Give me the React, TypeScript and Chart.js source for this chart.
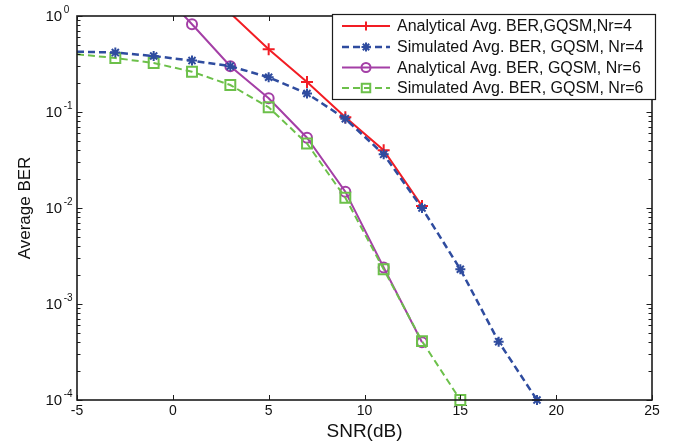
import React, { useEffect, useRef } from 'react';
import { Chart, registerables } from 'chart.js';
Chart.register(...registerables);

// ---- data ----
const seriesLabels = [
  'Analytical Avg. BER,GQSM,Nr=4',
  'Simulated Avg. BER, GQSM, Nr=4',
  'Analytical Avg. BER, GQSM, Nr=6',
  'Simulated Avg. BER, GQSM, Nr=6',
];
const snrAnaNr4 = [1, 3, 5, 7, 9, 11, 13];
const berAnaNr4 = [2.4, 1.07, 0.45, 0.205, 0.088, 0.04, 0.0105];
const snrSimNr4 = [-5, -3, -1, 1, 3, 5, 7, 9, 11, 13, 15, 17, 19];
const berSimNr4 = [0.425, 0.416, 0.383, 0.343, 0.3, 0.23, 0.156, 0.085, 0.0362, 0.01, 0.0023, 0.000405, 0.0001];
const snrAnaNr6 = [-1, 1, 3, 5, 7, 9, 11, 13];
const berAnaNr6 = [2.2, 0.82, 0.3, 0.139, 0.054, 0.0148, 0.0024, 0.0004];
const snrSimNr6 = [-5, -3, -1, 1, 3, 5, 7, 9, 11, 13, 15];
const berSimNr6 = [0.4, 0.365, 0.324, 0.263, 0.191, 0.112, 0.047, 0.0128, 0.0023, 0.00041, 0.0001];

const xTickValues = [-5, 0, 5, 10, 15, 20, 25];
const yTickValues = [1e-4, 1e-3, 1e-2, 1e-1, 1];
const yTickBase = '10';
const yTickExponents = ['-4', '-3', '-2', '-1', '0'];

const colors = ['#f21d24', '#2f4c9f', '#a43fa6', '#6cc04a'];
const markers = ['cross', 'star', 'circle', 'rect'];
const markerRadius = [6, 5, 5, 7];
const dashes = [[], [7, 4], [], [7, 4]];
const widths = [2, 2.5, 2, 2];
const drawOrder = [2, 1, 2, 1];

const FONT = '"Liberation Sans", Arial, Helvetica, sans-serif';

function pts(xs: number[], ys: number[]) {
  return xs.map((x, i) => ({ x, y: ys[i] }));
}

function drawMarker(ctx: CanvasRenderingContext2D, style: string, x: number, y: number, r: number) {
  ctx.beginPath();
  if (style === 'cross') {
    ctx.moveTo(x - r, y); ctx.lineTo(x + r, y);
    ctx.moveTo(x, y - r); ctx.lineTo(x, y + r);
  } else if (style === 'star') {
    const d = r * Math.SQRT1_2;
    ctx.moveTo(x - r, y); ctx.lineTo(x + r, y);
    ctx.moveTo(x, y - r); ctx.lineTo(x, y + r);
    ctx.moveTo(x - d, y - d); ctx.lineTo(x + d, y + d);
    ctx.moveTo(x - d, y + d); ctx.lineTo(x + d, y - d);
  } else if (style === 'circle') {
    ctx.arc(x, y, r, 0, Math.PI * 2);
  } else if (style === 'rect') {
    const s = r * Math.SQRT1_2;
    ctx.rect(x - s, y - s, 2 * s, 2 * s);
  }
  ctx.stroke();
}

const boxPlugin = {
  id: 'matlabBox',
  afterDatasetsDraw(chart: any) {
    const { ctx, chartArea: a, scales } = chart;
    const xs = scales.x, ys = scales.y;
    ctx.save();
    ctx.strokeStyle = '#1c1c1c';
    ctx.lineWidth = 1;
    ctx.setLineDash([]);
    ctx.beginPath();
    for (const t of xTickValues) {
      const px = Math.round(xs.getPixelForValue(t)) + 0.5;
      ctx.moveTo(px, a.bottom); ctx.lineTo(px, a.bottom - 5);
      ctx.moveTo(px, a.top); ctx.lineTo(px, a.top + 5);
    }
    for (let d = -4; d <= 0; d++) {
      for (let m = 1; m <= 9; m++) {
        const v = m * Math.pow(10, d);
        if (v > 1.0001) continue;
        const py = Math.round(ys.getPixelForValue(v)) + 0.5;
        const len = m === 1 ? 5.5 : 3.5;
        ctx.moveTo(a.left, py); ctx.lineTo(a.left + len, py);
        ctx.moveTo(a.right, py); ctx.lineTo(a.right - len, py);
      }
    }
    ctx.stroke();
    ctx.lineWidth = 1.6;
    ctx.strokeRect(a.left, a.top, a.right - a.left, a.bottom - a.top);

    // y tick labels: 10 with superscript exponent
    ctx.fillStyle = '#111111';
    ctx.textAlign = 'left';
    ctx.textBaseline = 'middle';
    yTickValues.forEach((v, i) => {
      const py = ys.getPixelForValue(v);
      ctx.font = `15px ${FONT}`;
      const bx = 45.5;
      ctx.fillText(yTickBase, bx, py + 1);
      const w = ctx.measureText(yTickBase).width;
      ctx.font = `10px ${FONT}`;
      ctx.fillText(yTickExponents[i], bx + w + 1.5, py - 6);
    });
    ctx.restore();
  },
  afterDraw(chart: any) {
    const { ctx } = chart;
    ctx.save();
    const bx = 332, by = 14, bw = 323, bh = 85;
    ctx.fillStyle = '#ffffff';
    ctx.fillRect(bx, by, bw, bh);
    ctx.strokeStyle = '#1c1c1c';
    ctx.lineWidth = 1.2;
    ctx.setLineDash([]);
    ctx.strokeRect(bx + 0.5, by + 0.5, bw, bh);
    const rows = [26, 47, 67.5, 88];
    ctx.font = `16px ${FONT}`;
    ctx.textBaseline = 'middle';
    ctx.textAlign = 'left';
    seriesLabels.forEach((label, i) => {
      const y = rows[i];
      ctx.strokeStyle = colors[i];
      ctx.lineWidth = widths[i];
      ctx.setLineDash(dashes[i]);
      ctx.beginPath();
      ctx.moveTo(342, y); ctx.lineTo(390, y);
      ctx.stroke();
      ctx.setLineDash([]);
      ctx.lineWidth = 2;
      drawMarker(ctx, markers[i], 366, y, markerRadius[i] === 7 ? 6 : 4.5);
      ctx.fillStyle = '#111111';
      ctx.fillText(label, 397, y + 1);
    });
    ctx.restore();
  },
};

export default function App() {
  const ref = useRef<HTMLCanvasElement | null>(null);
  useEffect(() => {
    document.body.style.margin = '0';
    const canvas = ref.current!;
    const series = [
      pts(snrAnaNr4, berAnaNr4),
      pts(snrSimNr4, berSimNr4),
      pts(snrAnaNr6, berAnaNr6),
      pts(snrSimNr6, berSimNr6),
    ];
    const chart = new Chart(canvas, {
      type: 'line',
      data: {
        datasets: series.map((data, i) => ({
          label: seriesLabels[i],
          data,
          order: drawOrder[i],
          borderColor: colors[i],
          backgroundColor: 'rgba(0,0,0,0)',
          borderWidth: widths[i],
          borderDash: dashes[i],
          pointStyle: markers[i] as any,
          pointRadius: (c: any) => {
            const r = c.raw;
            if (!r) return markerRadius[i];
            return r.x < -4.9 || r.y > 1.0001 ? 0 : markerRadius[i];
          },
          pointBorderWidth: 2,
          pointBorderColor: colors[i],
          pointBackgroundColor: 'rgba(0,0,0,0)',
          pointHoverRadius: 0,
          tension: 0,
          fill: false,
          clip: { left: 0, top: 0, right: 0, bottom: 10 } as any,
        })),
      },
      options: {
        animation: false,
        responsive: false,
        devicePixelRatio: 1,
        events: [],
        layout: { padding: { top: 16, right: 30, left: 0, bottom: 0 } },
        plugins: { legend: { display: false }, tooltip: { enabled: false } },
        scales: {
          x: {
            type: 'linear',
            min: -5,
            max: 25,
            grid: { display: false },
            border: { display: false },
            afterBuildTicks: (s: any) => { s.ticks = xTickValues.map((v) => ({ value: v })); },
            afterFit: (s: any) => { s.height = 46; },
            ticks: {
              color: '#111',
              padding: -5,
              maxRotation: 0,
              font: { family: FONT, size: 14 },
              callback: (v: any) => String(v),
            },
            title: {
              display: true,
              text: 'SNR(dB)',
              color: '#111',
              font: { family: FONT, size: 19 },
              padding: { top: 0, bottom: 3 },
            },
          },
          y: {
            type: 'logarithmic',
            min: 1e-4,
            max: 1,
            grid: { display: false },
            border: { display: false },
            afterBuildTicks: (s: any) => { s.ticks = yTickValues.map((v) => ({ value: v })); },
            afterFit: (s: any) => { s.width = 77; },
            ticks: { display: false },
            title: {
              display: true,
              text: 'Average BER',
              color: '#111',
              font: { family: FONT, size: 17 },
              padding: { top: 15, bottom: 0 },
            },
          },
        },
      },
      plugins: [boxPlugin],
    });
    return () => chart.destroy();
  }, []);
  return (
    <div style={{ width: 682, height: 446, background: '#fff' }}>
      <canvas ref={ref} width={682} height={446} style={{ display: 'block' }} />
    </div>
  );
}
